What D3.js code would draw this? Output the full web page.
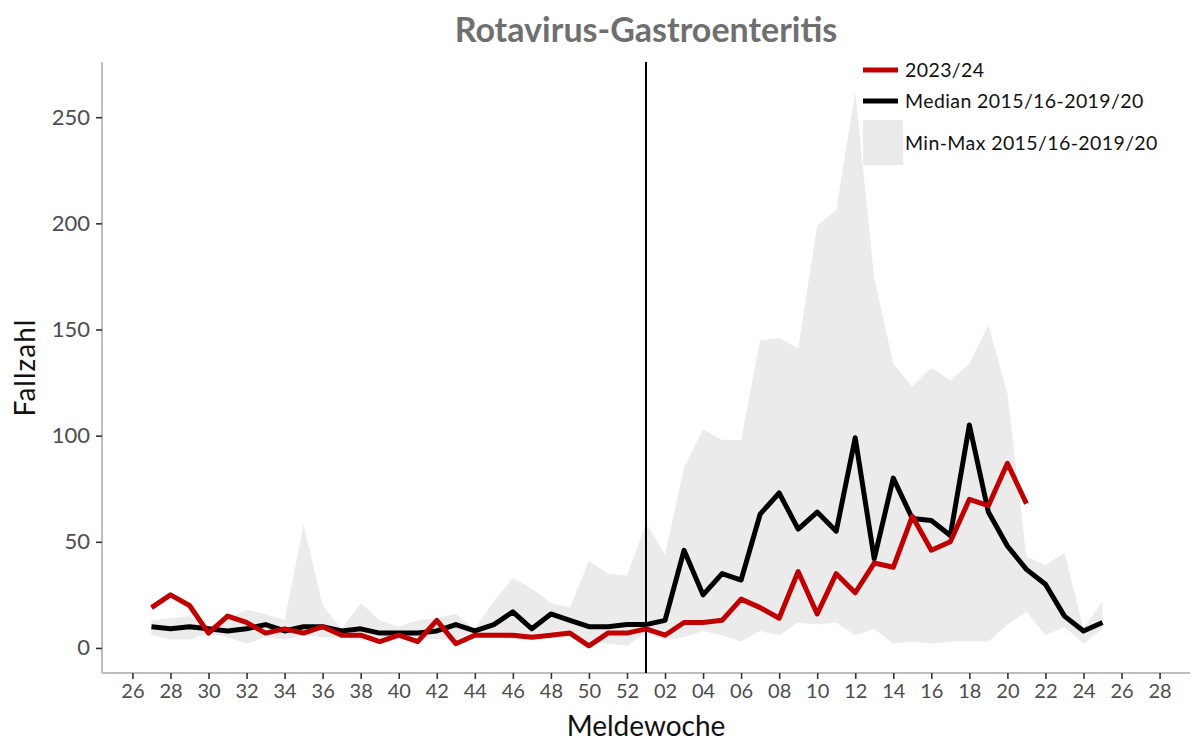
<!DOCTYPE html>
<html><head><meta charset="utf-8">
<script src="https://cdn.jsdelivr.net/npm/d3@7"></script>
<style>
body{margin:0;background:#fff;}
text{font-family:"Lato","Open Sans",sans-serif;}
</style></head>
<body><svg id="c" width="1192" height="743"></svg>
<script>
const weeks = [27,28,29,30,31,32,33,34,35,36,37,38,39,40,41,42,43,44,45,46,47,48,49,50,51,52,1,2,3,4,5,6,7,8,9,10,11,12,13,14,15,16,17,18,19,20,21,22,23,24,25];
const median = [10,9,10,9,8,9,11,8,10,10,8,9,7,7,7,8,11,8,11,17,9,16,13,10,10,11,11,13,46,25,35,32,63,73,56,64,55,99,42,80,61,60,53,105,64,48,37,30,15,8,12];
const season2324 = [19,25,20,7,15,12,7,9,7,10,6,6,3,6,3,13,2,6,6,6,5,6,7,1,7,7,9,6,12,12,13,23,19,14,36,16,35,26,40,38,62,46,50,70,67,87,68];
const bandMax = [13,14,15,10,14,18,16,13,58,20,9,21,13,10,13,14,16,9,22,33,28,21,19,41,35,34,59,44,85,103,98,98,145,146,141,199,206,262,174,134,123,132,126,134,152,120,43,39,45,9,22];
const bandMin = [6,4,4,7,5,2,5,4,6,5,5,4,5,5,5,4,4,5,5,4,4,5,5,3,2,1,7,4,5,8,6,3,8,6,12,11,12,6,9,2,3,2,3,3,3,11,17,6,10,2,9];
const tickWeeks = [26,28,30,32,34,36,38,40,42,44,46,48,50,52,2,4,6,8,10,12,14,16,18,20,22,24,26,28];
const yTicks = [0,50,100,150,200,250];
const legendLabels = ["2023/24","Median 2015/16-2019/20","Min-Max 2015/16-2019/20"];
const title = "Rotavirus-Gastroenteritis";

// position of a week on the season axis (week 26 -> 0, week 52 -> 26, week 1 -> 27)
const tickIdx = tickWeeks.map((w,i)=> i*2);
const idxOf = (w,i) => i + 1; // data starts at week 27 (index 1)

const svg = d3.select("#c");
const L=102, R=1190, T=62, B=673;
const x = d3.scaleLinear().domain([-1.6,55.6]).range([L,R]);
const y = d3.scaleLinear().domain([-11.8,276]).range([B,T]);

// title
svg.append("text").attr("x",(L+R)/2).attr("y",42).attr("text-anchor","middle")
  .attr("font-size",34).attr("font-weight","bold").attr("fill","#6f6f6f").text(title);

// band
const band = weeks.map((w,i)=>({i:idxOf(w,i),lo:bandMin[i],hi:bandMax[i]}));
svg.append("path").datum(band).attr("fill","#ebebeb")
  .attr("d",d3.area().x(d=>x(d.i)).y0(d=>y(d.lo)).y1(d=>y(d.hi)));

// axes
const xAxis = d3.axisBottom(x).tickValues(tickIdx).tickSize(6).tickPadding(5)
  .tickFormat((d,i)=> String(tickWeeks[i]).padStart(2,"0"));
const gx = svg.append("g").attr("transform",`translate(0,${B})`).call(xAxis);
gx.select(".domain").attr("stroke","#bdbdbd").attr("stroke-width",2).attr("d",`M${L},0H${R}`);
gx.selectAll(".tick line").attr("stroke","#333").attr("stroke-width",1.6);
gx.selectAll(".tick text").attr("font-size",20).attr("fill","#4d4d4d");

const yAxis = d3.axisLeft(y).tickValues(yTicks).tickSize(6).tickPadding(6);
const gy = svg.append("g").attr("transform",`translate(${L},0)`).call(yAxis);
gy.select(".domain").attr("stroke","#bdbdbd").attr("stroke-width",2).attr("d",`M0,${T}V${B}`);
gy.selectAll(".tick line").attr("stroke","#333").attr("stroke-width",1.6);
gy.selectAll(".tick text").attr("font-size",22).attr("fill","#4d4d4d");

// axis titles
svg.append("text").attr("x",(L+R)/2).attr("y",736).attr("text-anchor","middle")
  .attr("font-size",28).attr("fill","#111").text("Meldewoche");
svg.append("text").attr("transform",`translate(35,${(T+B)/2}) rotate(-90)`).attr("text-anchor","middle")
  .attr("font-size",28).attr("letter-spacing",1).attr("fill","#111").text("Fallzahl");

// year boundary line (week 01)
svg.append("line").attr("x1",x(27)).attr("x2",x(27)).attr("y1",T).attr("y2",B)
  .attr("stroke","#000").attr("stroke-width",2);

const line = d3.line().x(d=>x(d.i)).y(d=>y(d.v));
svg.append("path").datum(weeks.map((w,i)=>({i:idxOf(w,i),v:median[i]})))
  .attr("fill","none").attr("stroke","#000").attr("stroke-width",5).attr("stroke-linejoin","round").attr("d",line);
svg.append("path").datum(season2324.map((v,i)=>({i:idxOf(weeks[i],i),v})))
  .attr("fill","none").attr("stroke","#c00000").attr("stroke-width",5).attr("stroke-linejoin","round").attr("d",line);

// legend
const lg = svg.append("g");
lg.append("line").attr("x1",863).attr("x2",898).attr("y1",70).attr("y2",70).attr("stroke","#c00000").attr("stroke-width",5);
lg.append("line").attr("x1",863).attr("x2",898).attr("y1",101).attr("y2",101).attr("stroke","#000").attr("stroke-width",5);
lg.append("rect").attr("x",863).attr("y",120).attr("width",40).attr("height",45).attr("fill","#ebebeb");
const ly=[77,108,150];
legendLabels.forEach((t,i)=> lg.append("text").attr("x",905).attr("y",ly[i]).attr("font-size",19.5).attr("letter-spacing",0.4).attr("fill","#111").text(t));
</script></body></html>
